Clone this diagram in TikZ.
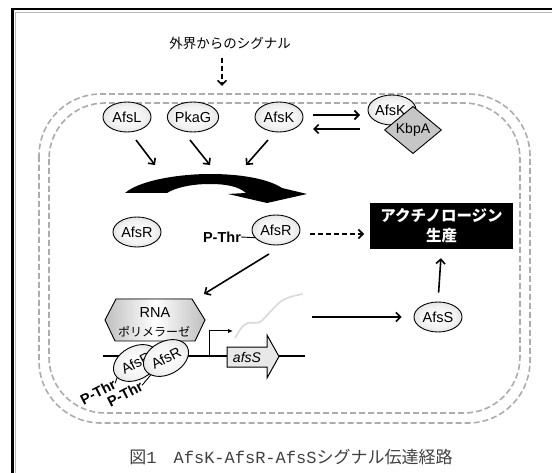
\documentclass[tikz,border=0pt]{standalone}
\usepackage{fontspec}
\setmainfont{Liberation Sans}
\newfontfamily\jp{Noto Sans CJK JP}
\newfontfamily\monof{Liberation Mono}
\usetikzlibrary{shapes.geometric,arrows.meta,calc}
\pgfdeclareradialshading{protsh}{\pgfpoint{0bp}{0bp}}{color(0bp)=(white); color(18bp)=(white!95!black); color(36bp)=(white!82!black); color(50bp)=(white!60!black); color(100bp)=(white!60!black)}
\begin{document}
\begin{tikzpicture}[x=1pt,y=-1pt,
  prot/.style={ellipse,draw,line width=0.9pt,shading=protsh,
    minimum width=48pt,minimum height=30pt,inner sep=0pt,font=\fontsize{14.5}{16}\selectfont},
  arr/.style={line width=1.6pt,-{Straight Barb[length=4.5pt,width=9pt,line width=1.6pt]}},
  darr/.style={arr,dash pattern=on 5pt off 3pt},
  mem/.style={draw=gray!65,line width=1.6pt,dash pattern=on 6pt off 3pt},
  pthrs/.style={font=\bfseries\fontsize{14.5}{16}\selectfont,inner sep=0pt},
  jptext/.style={font=\jp\fontsize{#1}{#1}\selectfont},
]
\useasboundingbox (0,0) rectangle (552,473);
% frame
\draw[line width=2.6pt] (12.5,480) -- (12.5,9) -- (560,9);
\draw[gray!55,line width=0.8pt] (15.8,480) -- (15.8,12.5) -- (560,12.5);
% membranes
\draw[mem,rounded corners=62pt] (39,94) rectangle (530,423);
\draw[mem,rounded corners=56pt] (49,103) rectangle (520,413);
% signal
\node[jptext=13.5] (sig) at (230,43) {外界からのシグナル};
\coordinate (sigA) at (222,58);
\coordinate (sigB) at (222,86);
\draw[darr] (sigA) -- (sigB);
% kinases
\node[prot] (afsL) at (127,117) {AfsL};
\node[prot] (pkaG) at (193,117) {PkaG};
\node[prot] (afsK) at (279,117) {AfsK};
\node[prot] (afsKb) at (392,110) {\hspace*{-3pt}AfsK};
\node[diamond,draw,line width=0.9pt,fill=gray!45,minimum width=57pt,minimum height=36pt,inner sep=0pt,
  font=\fontsize{14}{16}\selectfont] (kbpA) at (413,130) {KbpA};
\coordinate (eq1) at (313,115); \coordinate (eq2) at (360,115);
\coordinate (eq3) at (360,129); \coordinate (eq4) at (313,129);
\draw[arr] (eq1) -- (eq2);
\draw[arr] (eq3) -- (eq4);
% arrows down
\coordinate (l1) at (136,140); \coordinate (l2) at (155,165);
\coordinate (p1) at (190,140); \coordinate (p2) at (210,165);
\coordinate (k1) at (268,140); \coordinate (k2) at (246,165);
\draw[arr] (l1) -- (l2);
\draw[arr] (p1) -- (p2);
\draw[arr] (k1) -- (k2);
% big curved arrow
\fill[black] (125,193) .. controls (140,180) and (180,174) .. (210,174)
  .. controls (245,174) and (270,180) .. (282,188) -- (307,194) -- (267,203) -- (228,194) -- (246,193)
  .. controls (238,186) and (225,184) .. (210,184)
  .. controls (190,184) and (175,188) .. (167,193) -- cycle;
% AfsR
\node[prot] (afsR) at (137,232) {AfsR};
\node[prot] (afsRp) at (276,230) {AfsR};
\node[pthrs] (pthr) at (222,237) {P-Thr};
\draw[line width=0.9pt] (pthr.east) -- (afsRp.200);
% product
\node[fill=black,text=white,minimum width=143pt,minimum height=46pt,align=center,inner sep=0pt,
  font=\jp\bfseries\fontsize{15.5}{20}\selectfont] (act) at (441.5,226) {アクチノロージン\\生産};
\coordinate (d1) at (310,234); \coordinate (d2) at (364,234);
\draw[darr] (d1) -- (d2);
% AfsS
\node[prot] (afsS) at (438,317) {AfsS};
\draw[arr,shorten <=9pt,shorten >=9pt] (afsS.north) -- (act.south);
% arrow to RNA polymerase
\coordinate (r1) at (269,254); \coordinate (r2) at (204,294);
\draw[arr] (r1) -- (r2);
% RNA polymerase
\filldraw[line width=0.9pt,draw=black,left color=gray!50,right color=gray!50,middle color=white]
  (116,299) -- (192,299) -- (205,320) -- (195,341) -- (115,341) -- (105,320) -- cycle;
\node[font=\fontsize{14.5}{16}\selectfont] (rna) at (155,313) {RNA};
\node[jptext=12] (pol) at (154,332) {ポリメラーゼ};
% DNA
\coordinate (dnaL) at (103,356); \coordinate (dnaR) at (305,356);
\draw[line width=2pt] (dnaL) -- (dnaR);
% bound AfsR
\node[prot,rotate=28,minimum width=48pt,minimum height=33pt] (dR1) at (136,363) {AfsR};
\node[prot,rotate=28,minimum width=48pt,minimum height=33pt] (dR2) at (166,358) {AfsR};
\node[pthrs,rotate=27] (pt1) at (98,392) {P-Thr};
\node[pthrs,rotate=27] (pt2) at (125,394) {P-Thr};
\draw[line width=0.9pt] (pt1.east) -- (dR1.190);
\draw[line width=0.9pt] (pt2.east) -- (dR2.200);
% transcription start
\coordinate (ts1) at (209,356); \coordinate (ts2) at (233,331);
\draw[line width=1pt,-{Latex[length=5pt,width=4.5pt]}] (ts1) |- (ts2);
% gene
\filldraw[fill=gray!18,line width=1pt] (227,347) -- (267,347) -- (267,335) -- (279,356.5) -- (267,378)
  -- (267,367) -- (227,367) -- cycle;
\node[font=\itshape\fontsize{14}{16}\selectfont] (gene) at (247,357) {afsS};
% mRNA
\draw[gray!30,line width=1.6pt] plot[smooth] coordinates {(235,338) (242,327) (248,323) (260,322) (270,312) (280,302) (290,297) (303,294)};
% to AfsS
\coordinate (s1) at (312,317);
\draw[arr,shorten >=12pt] (s1) -- (afsS.west);
% caption
\node[jptext=17,text=black!75] (cap) at (291,457) {図{\monof 1}　{\monof AfsK-AfsR-AfsS}シグナル伝達経路};
\end{tikzpicture}
\end{document}
